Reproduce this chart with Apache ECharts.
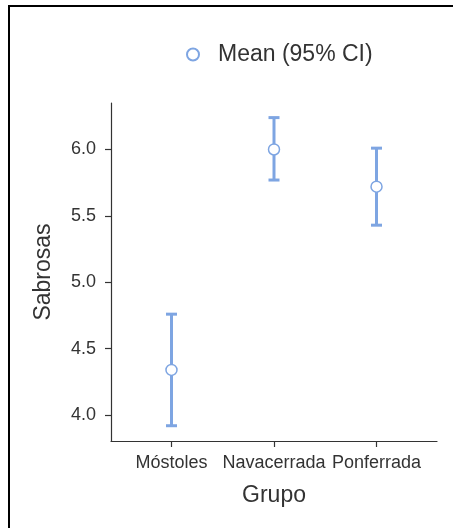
<!DOCTYPE html>
<html>
<head>
<meta charset="utf-8">
<script src="https://cdn.jsdelivr.net/npm/echarts@6/dist/echarts.min.js"></script>
<style>
  html, body { margin: 0; padding: 0; background: #fff; }
  #main { width: 453px; height: 528px; }
</style>
</head>
<body>
<div id="main"></div>
<script>
const groups = ['Móstoles', 'Navacerrada', 'Ponferrada'];
const means = [4.34, 6.00, 5.72];
const lower = [3.92, 5.77, 5.43];
const upper = [4.76, 6.24, 6.01];
const yTicks = [4.0, 4.5, 5.0, 5.5, 6.0];
const xTicks = [1, 2, 3];

const blue = '#7ea5e2';
const ink = '#333333';
const font = 'Liberation Sans';

let chart = echarts.init(document.getElementById('main'), null, { renderer: 'canvas' });

chart.setOption({
  backgroundColor: '#fff',
  animation: false,
  // frame lines round the picture (left + top only)
  graphic: [{
    type: 'polyline',
    shape: { points: [[9, 528], [9, 6], [453, 6]] },
    style: { stroke: '#000', lineWidth: 2, fill: null },
    silent: true
  }],
  legend: {
    data: ['Mean (95% CI)'],
    left: 181,
    top: 38,
    itemWidth: 12,
    itemHeight: 12,
    textStyle: { color: ink, fontSize: 23, fontFamily: font, padding: [0, 0, 0, 14] }
  },
  grid: { left: 111, right: 16, top: 103, bottom: 87 },
  xAxis: {
    type: 'value',
    min: 0.41,
    max: 3.59,
    name: 'Grupo',
    nameLocation: 'middle',
    nameGap: 43,
    nameTextStyle: { color: ink, fontSize: 23, fontFamily: font },
    splitLine: { show: false },
    axisLine: { lineStyle: { color: ink, width: 1.2 } },
    axisTick: { customValues: xTicks, length: 6, lineStyle: { color: ink, width: 1.2 } },
    axisLabel: {
      customValues: xTicks,
      margin: 13,
      color: ink,
      fontSize: 18,
      fontFamily: font,
      formatter: function (v) { return groups[Math.round(v) - 1]; }
    }
  },
  yAxis: {
    type: 'value',
    min: 3.805,
    max: 6.35,
    name: 'Sabrosas',
    nameLocation: 'middle',
    nameGap: 56,
    nameTextStyle: { color: ink, fontSize: 23, fontFamily: font },
    splitLine: { show: false },
    axisLine: { show: true, lineStyle: { color: ink, width: 1.2 } },
    axisTick: { show: true, customValues: yTicks, length: 6, lineStyle: { color: ink, width: 1.2 } },
    axisLabel: {
      customValues: yTicks,
      margin: 15,
      color: ink,
      fontSize: 18,
      fontFamily: font,
      formatter: function (v) { return v.toFixed(1); }
    }
  },
  series: [
    {
      // 95% CI bars
      type: 'custom',
      data: groups.map((g, i) => [xTicks[i], lower[i], upper[i]]),
      encode: { x: 0, y: [1, 2] },
      renderItem: function (params, api) {
        const lo = api.coord([api.value(0), api.value(1)]);
        const hi = api.coord([api.value(0), api.value(2)]);
        const hw = 5.5;
        const st = { stroke: blue, lineWidth: 3 };
        return {
          type: 'group',
          children: [
            { type: 'line', shape: { x1: lo[0], y1: lo[1], x2: hi[0], y2: hi[1] }, style: st },
            { type: 'line', shape: { x1: lo[0] - hw, y1: lo[1], x2: lo[0] + hw, y2: lo[1] }, style: st },
            { type: 'line', shape: { x1: hi[0] - hw, y1: hi[1], x2: hi[0] + hw, y2: hi[1] }, style: st }
          ]
        };
      },
      z: 2
    },
    {
      name: 'Mean (95% CI)',
      type: 'scatter',
      data: means.map((m, i) => [xTicks[i], m]),
      symbol: 'circle',
      symbolSize: 11,
      itemStyle: { color: '#fff', borderColor: blue, borderWidth: 1.5, opacity: 1 },
      z: 3
    }
  ]
});
</script>
</body>
</html>
